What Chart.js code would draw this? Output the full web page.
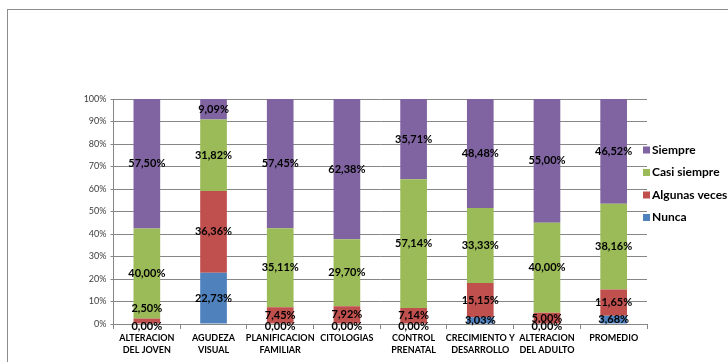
<!DOCTYPE html>
<html>
<head>
<meta charset="utf-8">
<script src="https://cdn.jsdelivr.net/npm/chart.js@4"></script>
<style>
  body { margin: 0; background: #fff; }
  #wrap { position: relative; width: 728px; height: 362px; overflow: hidden; }
  #frame { position: absolute; left: 7px; top: 9px; width: 760px; height: 400px; border: 1px solid #8c8c8c; }
  #barChart { position: absolute; left: 0; top: 0; }
</style>
</head>
<body>
<div id="wrap">
  <div id="frame"></div>
  <canvas id="barChart" width="728" height="362"></canvas>
</div>
<script>
'use strict';

const categories = [
  ['ALTERACION', 'DEL JOVEN'],
  ['AGUDEZA', 'VISUAL'],
  ['PLANIFICACION', 'FAMILIAR'],
  'CITOLOGIAS',
  ['CONTROL', 'PRENATAL'],
  ['CRECIMIENTO Y', 'DESARROLLO'],
  ['ALTERACION', 'DEL ADULTO'],
  'PROMEDIO'
];
const nunca        = [0.00, 22.73, 0.00, 0.00, 0.00, 3.03, 0.00, 3.68];
const algunasVeces = [2.50, 36.36, 7.45, 7.92, 7.14, 15.15, 5.00, 11.65];
const casiSiempre  = [40.00, 31.82, 35.11, 29.70, 57.14, 33.33, 40.00, 38.16];
const siempre      = [57.50, 9.09, 57.45, 62.38, 35.71, 48.48, 55.00, 46.52];
const yTicks = [0, 10, 20, 30, 40, 50, 60, 70, 80, 90, 100];

const FONT = 'Lato, "Open Sans", sans-serif';

function pct(v) {
  return v.toFixed(2).replace('.', ',') + '%';
}

// etiquetas de valor centradas en cada tramo de la barra
const valueLabels = {
  id: 'valueLabels',
  afterDatasetsDraw(chart) {
    const ctx = chart.ctx;
    ctx.save();
    ctx.font = 'bold 11px ' + FONT;
    ctx.fillStyle = '#000';
    ctx.textAlign = 'center';
    ctx.textBaseline = 'middle';
    const last = [];
    chart.data.datasets.forEach(function(ds, i) {
      chart.getDatasetMeta(i).data.forEach(function(bar, j) {
        let y = (bar.y + bar.base) / 2;
        if (ds.data[j] === 0) y = bar.base + 2;
        if (last[j] !== undefined && last[j] - y < 7) y = last[j] - 18;
        last[j] = y;
        ctx.fillText(pct(ds.data[j]), bar.x, y);
      });
    });
    ctx.restore();
  }
};

// leyenda dibujada a mano a la derecha, en orden inverso
const sideLegend = {
  id: 'sideLegend',
  afterDraw(chart) {
    const ctx = chart.ctx;
    const sets = chart.data.datasets.slice().reverse();
    ctx.save();
    ctx.font = 'bold 12px ' + FONT;
    ctx.textBaseline = 'middle';
    sets.forEach(function(ds, i) {
      const y = 150 + i * 22.5;
      ctx.fillStyle = ds.backgroundColor;
      ctx.fillRect(643, y - 3.5, 7, 7);
      ctx.fillStyle = '#000';
      ctx.fillText(ds.label, 652, y);
    });
    ctx.restore();
  }
};

let context = document.querySelector('#barChart').getContext('2d');
new Chart(context, {
  type: 'bar',
  data: {
    labels: categories,
    datasets: [
      { label: 'Nunca', data: nunca, backgroundColor: '#4F81BD' },
      { label: 'Algunas veces', data: algunasVeces, backgroundColor: '#C0504D' },
      { label: 'Casi siempre', data: casiSiempre, backgroundColor: '#9BBB59' },
      { label: 'Siempre', data: siempre, backgroundColor: '#8064A2' }
    ]
  },
  options: {
    responsive: false,
    animation: false,
    categoryPercentage: 1,
    barPercentage: 0.4,
    layout: { padding: { left: 0, top: 99, right: 81, bottom: 0 } },
    plugins: {
      legend: { display: false },
      tooltip: { enabled: false }
    },
    scales: {
      x: {
        stacked: true,
        afterFit: function(scale) { scale.height = 38; },
        grid: {
          offset: true,
          drawOnChartArea: false,
          drawTicks: true,
          tickLength: 5,
          color: '#868686'
        },
        border: { color: '#868686' },
        ticks: {
          maxRotation: 0,
          autoSkip: false,
          padding: 3,
          color: '#000',
          font: { family: FONT, size: 9, weight: 'bold', lineHeight: 1.35 }
        }
      },
      y: {
        stacked: true,
        min: 0,
        max: 100,
        afterFit: function(scale) { scale.width = 113.5; },
        afterBuildTicks: function(scale) {
          scale.ticks = yTicks.map(function(v) { return { value: v }; });
        },
        grid: { color: '#868686', tickLength: 3 },
        border: { color: '#868686' },
        ticks: {
          padding: 4,
          color: '#404040',
          font: { family: FONT, size: 9 },
          callback: function(v) { return v + '%'; }
        }
      }
    }
  },
  plugins: [valueLabels, sideLegend]
});
</script>
</body>
</html>
